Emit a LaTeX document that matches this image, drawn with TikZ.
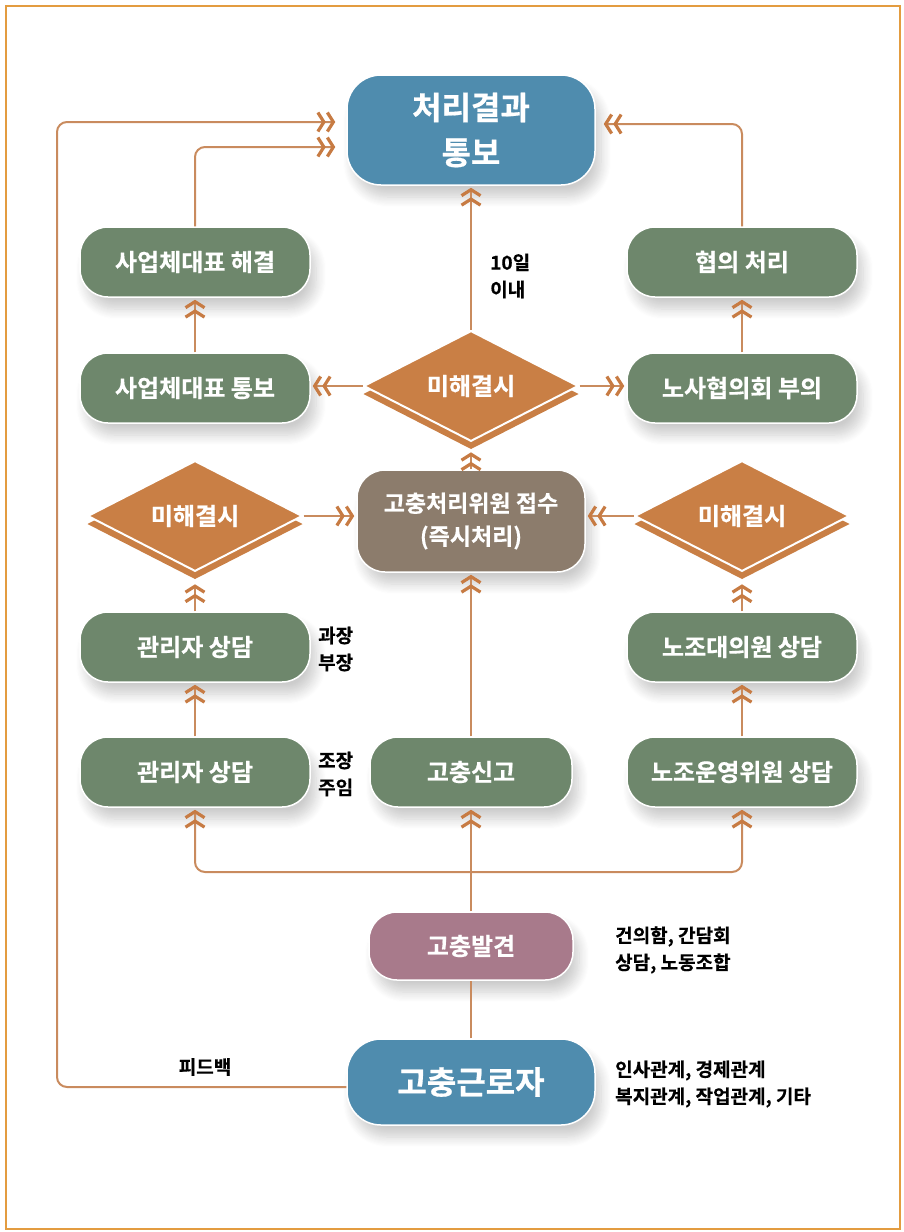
\documentclass[tikz,border=0pt]{standalone}
\usepackage{fontspec}
\setmainfont{Noto Sans CJK KR}[BoldFont=* Bold, BoldFeatures={FakeBold=0.5}]
\usetikzlibrary{arrows.meta,shapes.geometric,shadows.blur,calc}
\definecolor{cgreen}{HTML}{6E876C}
\definecolor{cblue}{HTML}{4F8CAE}
\definecolor{cbrown}{HTML}{8C7C6C}
\definecolor{cmauve}{HTML}{A87A8B}
\definecolor{corange}{HTML}{C97F45}
\definecolor{cline}{HTML}{C98B5E}
\definecolor{ctip}{HTML}{C77B43}
\definecolor{cframe}{HTML}{E39C40}
\newcommand\mydia[4]{%
  \fill[corange] ({#2-107.5},{#3+8}) -- ({#2},{#3+63}) -- ({#2+107.5},{#3+8}) -- ({#2},{#3-47}) -- cycle;
  \node[dia] (#1) at (#2,#3) {#4};}
\begin{document}
\begin{tikzpicture}[x=1pt,y=-1pt,
  base/.style={draw=white, line width=1.5pt, text=white, align=center, inner sep=0pt,
    blur shadow={shadow xshift=6pt, shadow yshift=-12pt, shadow blur steps=10, shadow opacity=20, shadow blur radius=10pt}},
  gbox/.style={base, fill=cgreen, minimum width=230pt, minimum height=70pt, rounded corners=28pt,
    font=\fontsize{24}{28}\selectfont\bfseries},
  bbox/.style={base, fill=cblue, minimum width=248pt, rounded corners=34pt,
    font=\fontsize{32}{45}\selectfont\bfseries},
  dia/.style={diamond, fill=corange, draw=white, line width=2pt, minimum width=215pt, minimum height=110pt,
    inner sep=0pt, text=white, font=\fontsize{24}{28}\selectfont\bfseries},
  lbl/.style={anchor=west, align=left, inner sep=0pt, text=black, font=\fontsize{19}{27}\selectfont\bfseries},
  conn/.style={draw=cline, line width=2pt},
  arr/.style={-{Straight Barb[length=6pt,width=19pt,line width=3.2pt,color=ctip] Straight Barb[length=6pt,width=19pt,line width=3.2pt,color=ctip]}, shorten >=2pt},
]
\useasboundingbox (0,0) rectangle (903,1232);
\draw[cframe, line width=1.2pt] (6,6) rectangle (900,1229);

% nodes
\node[bbox, minimum height=110pt] (result) at (471,130) {처리결과\\통보};
\node[gbox] (solve1) at (195,262) {사업체대표 해결};
\node[gbox] (notify1) at (195,388) {사업체대표 통보};
\node[gbox] (agree) at (742,262) {협의 처리};
\node[gbox] (council) at (742,388) {노사협의회 부의};
\mydia{dC}{471}{386}{미해결시}
\mydia{dL}{195}{516}{미해결시}
\mydia{dR}{742}{516}{미해결시}
\node[gbox, fill=cbrown, minimum width=228pt, minimum height=102pt, font=\fontsize{23}{33}\selectfont\bfseries] (recv) at (471,521) {고충처리위원 접수\\(즉시처리)};
\node[gbox] (mgr2) at (195,647) {관리자 상담};
\node[gbox] (mgr1) at (195,772) {관리자 상담};
\node[gbox, minimum width=202pt] (report) at (471,772) {고충신고};
\node[gbox] (union2) at (742,647) {노조대의원 상담};
\node[gbox] (union1) at (742,772) {노조운영위원 상담};
\node[gbox, fill=cmauve, minimum width=204pt, minimum height=68pt] (found) at (471,946) {고충발견};
\node[bbox, minimum height=86pt] (worker) at (471,1082) {고충근로자};

% labels
\node[lbl] (l10) at (490,276) {10일\\이내};
\node[lbl] (lgj) at (318,649) {과장\\부장};
\node[lbl] (ljj) at (318,774) {조장\\주임};
\node[lbl] (lch) at (615,950) {건의함, 간담회\\상담, 노동조합};
\node[lbl] (lrel) at (615,1084) {인사관계, 경제관계\\복지관계, 작업관계, 기타};
\node[lbl, anchor=center] (lfb) at (205,1067) {피드백};

% connectors
\coordinate (split) at (471,872);
\coordinate (fbCorner) at (57,600);
\draw[conn] (worker.north) -- (found.south);
\draw[conn,arr] (found.north) -- (report.south);
\draw[conn,arr,rounded corners=10pt] (split) -| (mgr1.south);
\draw[conn,arr,rounded corners=10pt] (split) -| (union1.south);
\draw[conn,arr] (mgr1.north) -- (mgr2.south);
\draw[conn,arr] (mgr2.north) -- ($(dL.south)+(0,10)$);
\draw[conn,arr] (union1.north) -- (union2.south);
\draw[conn,arr] (union2.north) -- ($(dR.south)+(0,10)$);
\draw[conn,arr] (dL.east) -- (dL.east -| recv.west);
\draw[conn,arr] (dR.west) -- (dR.west -| recv.east);
\draw[conn,arr] (report.north) -- (recv.south);
\draw[conn,arr] (recv.north) -- ($(dC.south)+(0,8)$);
\draw[conn,arr] (dC.west) -- (dC.west -| notify1.east);
\draw[conn,arr] (dC.east) -- (dC.east -| council.west);
\draw[conn,arr] (notify1.north) -- (solve1.south);
\draw[conn,arr] (council.north) -- (agree.south);
\draw[conn,arr] (dC.north) -- (result.south);
\draw[conn,arr,rounded corners=10pt,shorten >=11pt] (solve1.north) |- ($(result.west)+(0,17)$);
\draw[conn,arr,rounded corners=10pt,shorten >=8pt] (agree.north) |- ($(result.east)+(0,-6)$);
\draw[conn,arr,rounded corners=10pt,shorten >=11pt] ($(worker.west)+(0,5)$) -| (fbCorner) |- ($(result.west)+(0,-8)$);
\end{tikzpicture}
\end{document}
